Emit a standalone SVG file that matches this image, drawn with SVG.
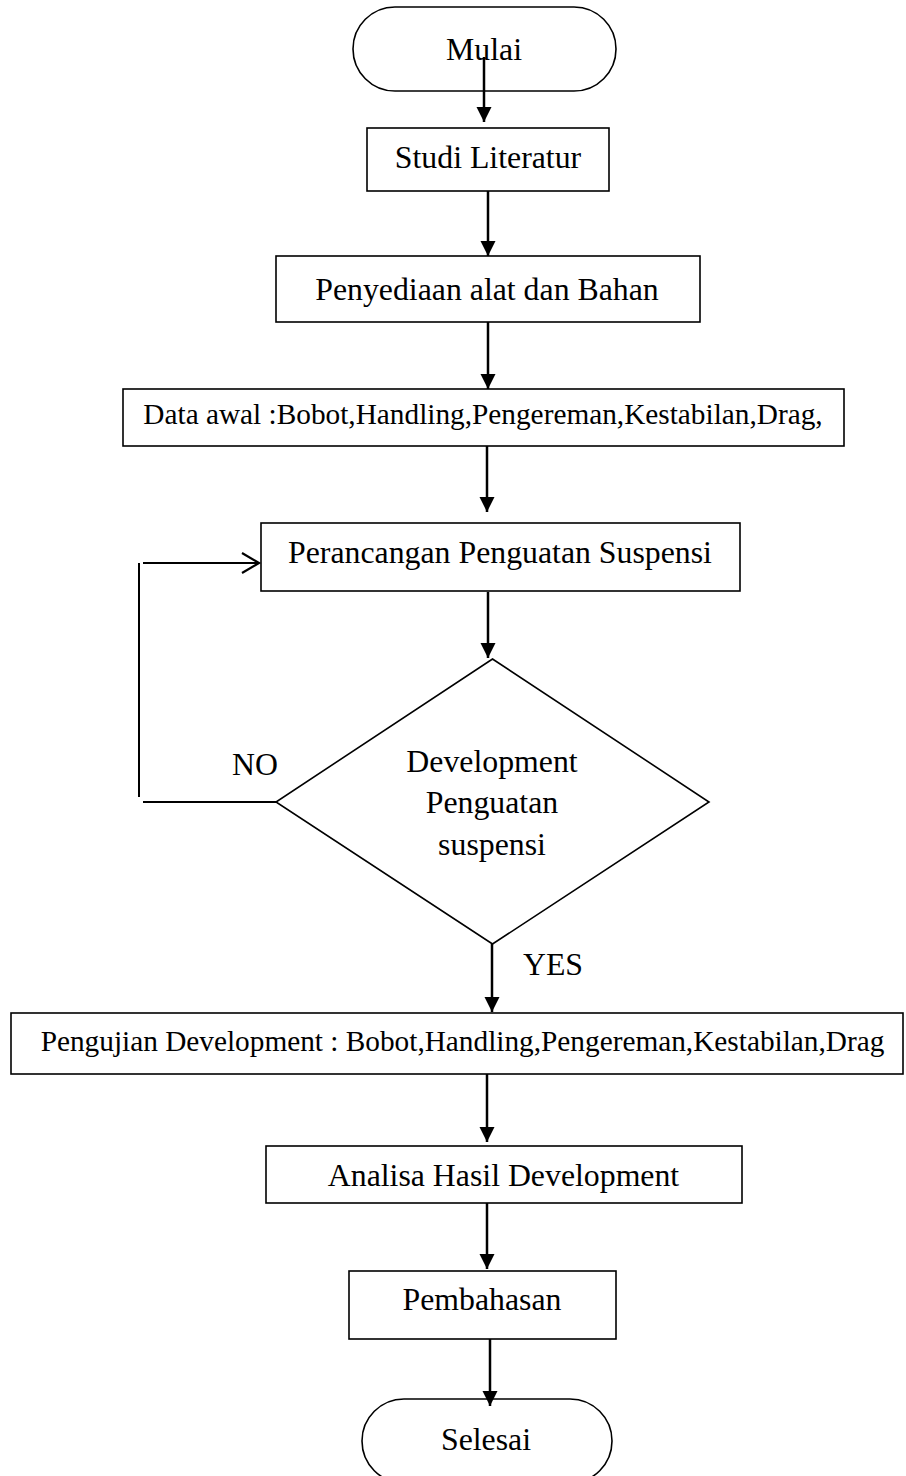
<svg xmlns="http://www.w3.org/2000/svg" width="906" height="1476" viewBox="0 0 906 1476">
<style>
.box{fill:#fff;stroke:#000;stroke-width:1.6}
.t{font-family:"Liberation Serif","Times New Roman",serif;font-size:31.8px;fill:#000;text-anchor:middle}
.s{font-size:29.3px}
.c{stroke:#000;stroke-width:2.5;fill:none}
.c1{stroke:#000;stroke-width:2;fill:none}
</style>
<defs>
<marker id="ah" markerUnits="userSpaceOnUse" markerWidth="16" markerHeight="16" refX="15" refY="7.5" orient="auto" viewBox="0 0 16 16">
<path d="M0,0 L15,7.5 L0,15 z" fill="#000"/>
</marker>
<marker id="oa" markerUnits="userSpaceOnUse" markerWidth="22" markerHeight="24" refX="18" refY="11" orient="auto" viewBox="0 0 22 24">
<path d="M1,1 L18,11 L1,21" fill="none" stroke="#000" stroke-width="2.2"/>
</marker>
</defs>
<rect width="906" height="1476" fill="#fff"/>
<g id="n-mulai"><rect class="box" x="353" y="7" width="263" height="84" rx="42" ry="42"/><text class="t" x="484" y="60">Mulai</text></g>
<g id="n-studi"><rect class="box" x="367" y="128" width="242" height="63"/><text class="t" x="488" y="168">Studi Literatur</text></g>
<g id="n-penyediaan"><rect class="box" x="276" y="256" width="424" height="66"/><text class="t" x="487" y="300">Penyediaan alat dan Bahan</text></g>
<g id="n-data"><rect class="box" x="123" y="389" width="721" height="57"/><text class="t s" x="483" y="424">Data awal :Bobot,Handling,Pengereman,Kestabilan,Drag,</text></g>
<g id="n-perancangan"><rect class="box" x="261" y="523" width="479" height="68"/><text class="t" x="500" y="563">Perancangan Penguatan Suspensi</text></g>
<g id="n-decision"><polygon class="box" points="492.5,659 709,802 492.5,944 276,802"/><text class="t" x="492" y="772">Development</text><text class="t" x="492" y="813">Penguatan</text><text class="t" x="492" y="855">suspensi</text></g>
<g id="n-pengujian"><rect class="box" x="11" y="1013" width="892" height="61"/><text class="t s" x="462.5" y="1051">Pengujian Development : Bobot,Handling,Pengereman,Kestabilan,Drag</text></g>
<g id="n-analisa"><rect class="box" x="266" y="1146" width="476" height="57"/><text class="t" x="503.5" y="1186">Analisa Hasil Development</text></g>
<g id="n-pembahasan"><rect class="box" x="349" y="1271" width="267" height="68"/><text class="t" x="482" y="1310">Pembahasan</text></g>
<g id="n-selesai"><rect class="box" x="362" y="1399" width="250" height="84" rx="42" ry="42"/><text class="t" x="486" y="1450">Selesai</text></g>
<g id="connectors">
<line class="c" x1="484" y1="57" x2="484" y2="122" marker-end="url(#ah)"/>
<line class="c" x1="488" y1="191" x2="488" y2="256" marker-end="url(#ah)"/>
<line class="c" x1="488" y1="322" x2="488" y2="389" marker-end="url(#ah)"/>
<line class="c" x1="487" y1="446" x2="487" y2="512" marker-end="url(#ah)"/>
<line class="c" x1="488" y1="592" x2="488" y2="658" marker-end="url(#ah)"/>
<line class="c" x1="492" y1="944" x2="492" y2="1012" marker-end="url(#ah)"/>
<line class="c" x1="487" y1="1074" x2="487" y2="1142" marker-end="url(#ah)"/>
<line class="c" x1="487" y1="1203" x2="487" y2="1269" marker-end="url(#ah)"/>
<line class="c" x1="490" y1="1339" x2="490" y2="1406" marker-end="url(#ah)"/>
<line class="c1" x1="276" y1="802" x2="143" y2="802"/>
<line class="c1" x1="139" y1="797" x2="139" y2="563"/>
<line class="c1" x1="143" y1="563" x2="259" y2="563" marker-end="url(#oa)"/>
<text class="t" x="255" y="775">NO</text>
<text class="t" x="553" y="975">YES</text>
</g>
</svg>
